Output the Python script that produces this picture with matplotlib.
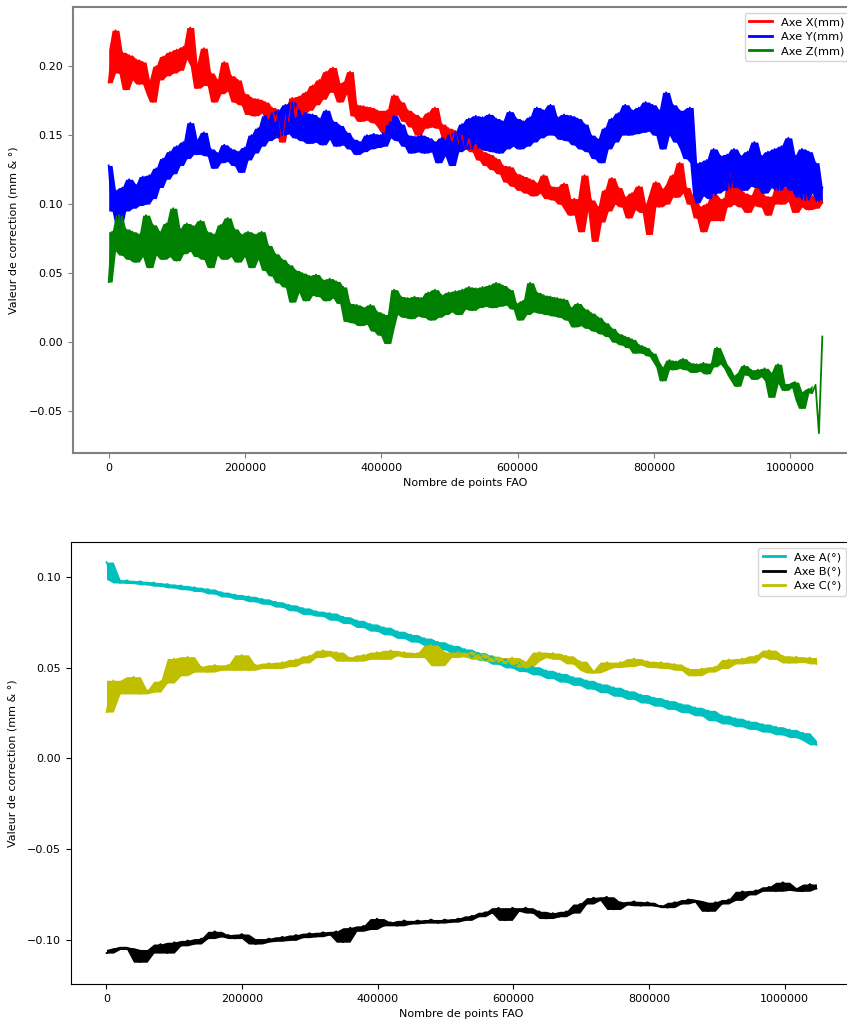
import numpy as np
import matplotlib
matplotlib.use('Agg')
import matplotlib.pyplot as plt

# points FAO (axe x)
pts_haut = np.linspace(0, 1047000, 211)
pts_bas = np.linspace(0, 1047000, 106)

# Axe X (mm)
axe_x = [
    0.188, 0.212, 0.226, 0.195, 0.210, 0.183, 0.208, 0.190, 0.205, 0.187,
    0.203, 0.190, 0.180, 0.174, 0.200, 0.190, 0.207, 0.193, 0.210, 0.195,
    0.212, 0.197, 0.214, 0.205, 0.228, 0.200, 0.184, 0.202, 0.213, 0.186,
    0.195, 0.174, 0.190, 0.180, 0.203, 0.182, 0.193, 0.174, 0.190, 0.172,
    0.180, 0.165, 0.177, 0.164, 0.176, 0.166, 0.174, 0.162, 0.170, 0.160,
    0.168, 0.145, 0.165, 0.160, 0.177, 0.163, 0.178, 0.165, 0.181, 0.168,
    0.186, 0.172, 0.190, 0.176, 0.196, 0.181, 0.199, 0.183, 0.174, 0.188,
    0.180, 0.196, 0.164, 0.172, 0.160, 0.171, 0.161, 0.170, 0.159, 0.168,
    0.156, 0.152, 0.168, 0.160, 0.179, 0.165, 0.174, 0.160, 0.168, 0.156,
    0.165, 0.150, 0.162, 0.155, 0.166, 0.156, 0.170, 0.155, 0.158, 0.147,
    0.155, 0.146, 0.153, 0.143, 0.150, 0.140, 0.147, 0.138, 0.143, 0.132,
    0.138, 0.128, 0.136, 0.125, 0.133, 0.122, 0.128, 0.116, 0.127, 0.113,
    0.122, 0.110, 0.120, 0.108, 0.118, 0.106, 0.115, 0.108, 0.121, 0.104,
    0.113, 0.103, 0.112, 0.100, 0.115, 0.096, 0.092, 0.104, 0.095, 0.080,
    0.121, 0.095, 0.103, 0.073, 0.098, 0.087, 0.110, 0.095, 0.119, 0.100,
    0.112, 0.098, 0.105, 0.090, 0.108, 0.096, 0.113, 0.094, 0.100, 0.078,
    0.108, 0.116, 0.098, 0.111, 0.100, 0.115, 0.121, 0.105, 0.130, 0.108,
    0.112, 0.100, 0.105, 0.090, 0.098, 0.080, 0.100, 0.088, 0.107, 0.094,
    0.088, 0.104, 0.098, 0.121, 0.100, 0.112, 0.098, 0.108, 0.094, 0.106,
    0.099, 0.112, 0.098, 0.106, 0.092, 0.105, 0.100, 0.114, 0.100, 0.112,
    0.102, 0.110, 0.094, 0.107, 0.098, 0.109, 0.096, 0.106, 0.097, 0.104,
    0.101,
]

# Axe Y (mm)
axe_y = [
    0.128, 0.095, 0.110, 0.083, 0.112, 0.095, 0.118, 0.097, 0.114, 0.099,
    0.120, 0.100, 0.121, 0.104, 0.126, 0.112, 0.133, 0.118, 0.138, 0.122,
    0.142, 0.128, 0.145, 0.133, 0.159, 0.140, 0.136, 0.147, 0.152, 0.135,
    0.140, 0.126, 0.137, 0.130, 0.143, 0.131, 0.140, 0.128, 0.138, 0.123,
    0.141, 0.132, 0.150, 0.137, 0.155, 0.142, 0.164, 0.146, 0.166, 0.148,
    0.168, 0.150, 0.172, 0.151, 0.174, 0.148, 0.168, 0.146, 0.166, 0.144,
    0.165, 0.145, 0.162, 0.143, 0.168, 0.147, 0.160, 0.142, 0.157, 0.143,
    0.152, 0.140, 0.147, 0.136, 0.145, 0.138, 0.150, 0.140, 0.151, 0.141,
    0.150, 0.142, 0.157, 0.148, 0.164, 0.146, 0.158, 0.142, 0.150, 0.137,
    0.149, 0.138, 0.150, 0.137, 0.148, 0.138, 0.145, 0.130, 0.148, 0.135,
    0.150, 0.128, 0.152, 0.138, 0.158, 0.140, 0.162, 0.140, 0.164, 0.141,
    0.163, 0.139, 0.165, 0.138, 0.162, 0.137, 0.160, 0.140, 0.167, 0.142,
    0.162, 0.140, 0.160, 0.142, 0.163, 0.145, 0.170, 0.148, 0.168, 0.150,
    0.172, 0.150, 0.163, 0.147, 0.165, 0.146, 0.164, 0.143, 0.162, 0.140,
    0.158, 0.138, 0.150, 0.133, 0.147, 0.130, 0.155, 0.140, 0.162, 0.145,
    0.166, 0.150, 0.172, 0.150, 0.168, 0.151, 0.170, 0.152, 0.174, 0.153,
    0.172, 0.150, 0.168, 0.140, 0.181, 0.150, 0.172, 0.145, 0.168, 0.140,
    0.133, 0.170, 0.130, 0.101, 0.130, 0.106, 0.132, 0.104, 0.140, 0.108,
    0.135, 0.110, 0.136, 0.112, 0.140, 0.112, 0.135, 0.110, 0.138, 0.113,
    0.145, 0.112, 0.135, 0.108, 0.138, 0.112, 0.140, 0.110, 0.142, 0.113,
    0.148, 0.110, 0.135, 0.105, 0.140, 0.103, 0.138, 0.108, 0.130, 0.102,
    0.112,
]

# Axe Z (mm)
axe_z = [
    0.0435, 0.080, 0.066, 0.092, 0.063, 0.082, 0.060, 0.080, 0.058, 0.078,
    0.062, 0.092, 0.054, 0.085, 0.063, 0.080, 0.060, 0.086, 0.062, 0.097,
    0.059, 0.082, 0.064, 0.086, 0.066, 0.084, 0.062, 0.088, 0.060, 0.080,
    0.054, 0.078, 0.063, 0.085, 0.060, 0.090, 0.062, 0.082, 0.058, 0.078,
    0.062, 0.080, 0.054, 0.078, 0.060, 0.080, 0.052, 0.070, 0.048, 0.064,
    0.043, 0.060, 0.040, 0.056, 0.029, 0.052, 0.036, 0.050, 0.030, 0.048,
    0.034, 0.049, 0.033, 0.045, 0.030, 0.046, 0.032, 0.044, 0.028, 0.040,
    0.015, 0.028, 0.014, 0.027, 0.012, 0.025, 0.013, 0.027, 0.008, 0.022,
    0.005, 0.020, -0.001, 0.010, 0.038, 0.020, 0.033, 0.018, 0.032, 0.017,
    0.033, 0.019, 0.032, 0.018, 0.036, 0.016, 0.038, 0.018, 0.034, 0.020,
    0.036, 0.022, 0.037, 0.020, 0.038, 0.024, 0.040, 0.023, 0.039, 0.025,
    0.040, 0.026, 0.041, 0.025, 0.043, 0.026, 0.041, 0.027, 0.038, 0.024,
    0.028, 0.016, 0.030, 0.020, 0.043, 0.022, 0.036, 0.021, 0.034, 0.020,
    0.033, 0.019, 0.032, 0.018, 0.031, 0.016, 0.025, 0.011, 0.028, 0.012,
    0.024, 0.010, 0.021, 0.008, 0.018, 0.006, 0.014, 0.004, 0.010, 0.000,
    0.006, -0.002, 0.004, -0.004, 0.002, -0.008, -0.002, -0.008, -0.004, -0.010,
    -0.008, -0.014, -0.018, -0.028, -0.020, -0.013, -0.020, -0.014, -0.019, -0.012,
    -0.020, -0.015, -0.022, -0.016, -0.021, -0.015, -0.023, -0.016, -0.018, -0.004,
    -0.010, -0.016, -0.019, -0.024, -0.028, -0.032, -0.022, -0.017, -0.024, -0.020,
    -0.027, -0.020, -0.025, -0.019, -0.028, -0.040, -0.022, -0.016, -0.030, -0.035,
    -0.033, -0.030, -0.029, -0.042, -0.048, -0.036, -0.034, -0.037, -0.031, -0.066,
    0.004,
]

# Axe A (°)
axe_a = [
    0.108, 0.0985, 0.0965, 0.0980, 0.0962, 0.0975, 0.0955, 0.0968, 0.0947, 0.0960,
    0.0938, 0.0952, 0.0928, 0.0942, 0.0918, 0.0932, 0.0905, 0.0915, 0.0888, 0.0902,
    0.0875, 0.0892, 0.0862, 0.0878, 0.0848, 0.0862, 0.0832, 0.0845, 0.0812, 0.0828,
    0.0792, 0.0810, 0.0782, 0.0800, 0.0760, 0.0780, 0.0742, 0.0760, 0.0720, 0.0740,
    0.0700, 0.0722, 0.0680, 0.0700, 0.0660, 0.0682, 0.0640, 0.0662, 0.0620, 0.0642,
    0.0598, 0.0622, 0.0578, 0.0602, 0.0558, 0.0582, 0.0540, 0.0562, 0.0518, 0.0545,
    0.0498, 0.0525, 0.0478, 0.0505, 0.0460, 0.0485, 0.0440, 0.0468, 0.0420, 0.0448,
    0.0402, 0.0430, 0.0382, 0.0410, 0.0362, 0.0392, 0.0342, 0.0372, 0.0325, 0.0352,
    0.0305, 0.0335, 0.0288, 0.0318, 0.0270, 0.0300, 0.0252, 0.0282, 0.0235, 0.0265,
    0.0208, 0.0238, 0.0190, 0.0222, 0.0175, 0.0205, 0.0160, 0.0190, 0.0145, 0.0175,
    0.0130, 0.0160, 0.0115, 0.0142, 0.0098, 0.0075,
]

# Axe B (°)
axe_b = [
    -0.107, -0.105, -0.104, -0.104, -0.105, -0.112, -0.107, -0.105, -0.102, -0.107,
    -0.101, -0.103, -0.100, -0.102, -0.099, -0.099, -0.095, -0.098, -0.097, -0.099,
    -0.0965, -0.099, -0.102, -0.101, -0.099, -0.1005, -0.098, -0.100, -0.097, -0.0985,
    -0.096, -0.098, -0.0955, -0.097, -0.095, -0.101, -0.093, -0.095, -0.092, -0.094,
    -0.088, -0.092, -0.090, -0.092, -0.089, -0.091, -0.089, -0.0905, -0.0885, -0.0905,
    -0.0885, -0.090, -0.088, -0.089, -0.0865, -0.087, -0.0845, -0.085, -0.082, -0.089,
    -0.082, -0.084, -0.082, -0.085, -0.084, -0.088, -0.085, -0.087, -0.084, -0.085,
    -0.080, -0.080, -0.0765, -0.078, -0.076, -0.083, -0.079, -0.0805, -0.0785, -0.081,
    -0.079, -0.081, -0.081, -0.082, -0.079, -0.080, -0.0775, -0.078, -0.079, -0.084,
    -0.079, -0.080, -0.0775, -0.078, -0.073, -0.075, -0.0725, -0.073, -0.0705, -0.073,
    -0.068, -0.071, -0.0725, -0.073, -0.069, -0.0715,
]

# Axe C (°)
axe_c = [
    0.0255, 0.0430, 0.0355, 0.0395, 0.0450, 0.0355, 0.0375, 0.0365, 0.0425, 0.0415,
    0.0550, 0.0455, 0.0560, 0.0475, 0.0505, 0.0475, 0.0515, 0.0485, 0.0515, 0.0485,
    0.0570, 0.0485, 0.0515, 0.0495, 0.0525, 0.0495, 0.0530, 0.0505, 0.0545, 0.0525,
    0.0565, 0.0555, 0.0595, 0.0565, 0.0585, 0.0535, 0.0555, 0.0535, 0.0570, 0.0545,
    0.0585, 0.0545, 0.0595, 0.0565, 0.0585, 0.0555, 0.0580, 0.0555, 0.0625, 0.0510,
    0.0585, 0.0555, 0.0585, 0.0560, 0.0585, 0.0545, 0.0570, 0.0535, 0.0555, 0.0525,
    0.0555, 0.0515, 0.0500, 0.0535, 0.0585, 0.0555, 0.0580, 0.0545, 0.0565, 0.0520,
    0.0535, 0.0485, 0.0470, 0.0485, 0.0530, 0.0500, 0.0530, 0.0505, 0.0550, 0.0515,
    0.0535, 0.0500, 0.0530, 0.0495, 0.0520, 0.0485, 0.0495, 0.0455, 0.0495, 0.0475,
    0.0505, 0.0495, 0.0545, 0.0520, 0.0550, 0.0525, 0.0565, 0.0560, 0.0596, 0.0545,
    0.0565, 0.0525, 0.0560, 0.0530, 0.0555, 0.0520,
]

plt.rcParams['font.size'] = 8


def bande(y):
    # enveloppe min/max sur 3 points voisins pour remplir le bruit
    y = np.asarray(y)
    p = np.concatenate(([y[0]], y, [y[-1]]))
    w = np.stack([p[:-2], p[1:-1], p[2:]])
    return w.min(axis=0), w.max(axis=0)


def trace(ax, x, y, couleur, nom, lw=1.3, n=None):
    bas, haut = bande(y)
    ax.fill_between(x[:n], bas[:n], haut[:n], color=couleur, lw=0)
    ax.plot(x, y, color=couleur, lw=lw, label=nom)


fig = plt.figure(figsize=(8.47, 10.21), dpi=100)

# graphique 1 : axes lineaires
ax1 = fig.add_axes([0.0862, 0.5563, 0.9268, 0.4368])
trace(ax1, pts_haut, axe_x, 'r', 'Axe X(mm)')
trace(ax1, pts_haut, axe_y, 'b', 'Axe Y(mm)')
trace(ax1, pts_haut, axe_z, 'g', 'Axe Z(mm)', n=-3)  # pic final en ligne seule
ax1.set_xlim(-52350, 1099350)
ax1.set_ylim(-0.0804, 0.2428)
ax1.set_xlabel('Nombre de points FAO')
ax1.set_ylabel('Valeur de correction (mm & °)')
ax1.yaxis.set_label_coords(-0.07, 0.5)
ax1.ticklabel_format(axis='x', style='plain')
for sp in ax1.spines.values():
    sp.set_color('0.5')
    sp.set_linewidth(1.5)
ax1.tick_params(color='0.5')
leg1 = ax1.legend(loc='upper right', bbox_to_anchor=(0.9885, 0.987), borderaxespad=0,
                  fontsize=8.2, labelspacing=0.38)
for h in leg1.get_lines():
    h.set_linewidth(2)

# graphique 2 : axes rotatifs
ax2 = fig.add_axes([0.0838, 0.0362, 0.9221, 0.4329])
trace(ax2, pts_bas, axe_a, 'c', 'Axe A(°)', lw=1.2)
trace(ax2, pts_bas, axe_b, 'k', 'Axe B(°)', lw=1.2)
trace(ax2, pts_bas, axe_c, 'y', 'Axe C(°)', lw=1.2)
ax2.set_xlim(-52350, 1099350)
ax2.set_ylim(-0.124, 0.119)
ax2.set_xlabel('Nombre de points FAO')
ax2.set_ylabel('Valeur de correction (mm & °)')
ax2.yaxis.set_label_coords(-0.069, 0.5)
ax2.ticklabel_format(axis='x', style='plain')
leg2 = ax2.legend(loc='upper right', fontsize=8.2, labelspacing=0.38)
for h in leg2.get_lines():
    h.set_linewidth(2)

fig.savefig('out.png', dpi=100)
